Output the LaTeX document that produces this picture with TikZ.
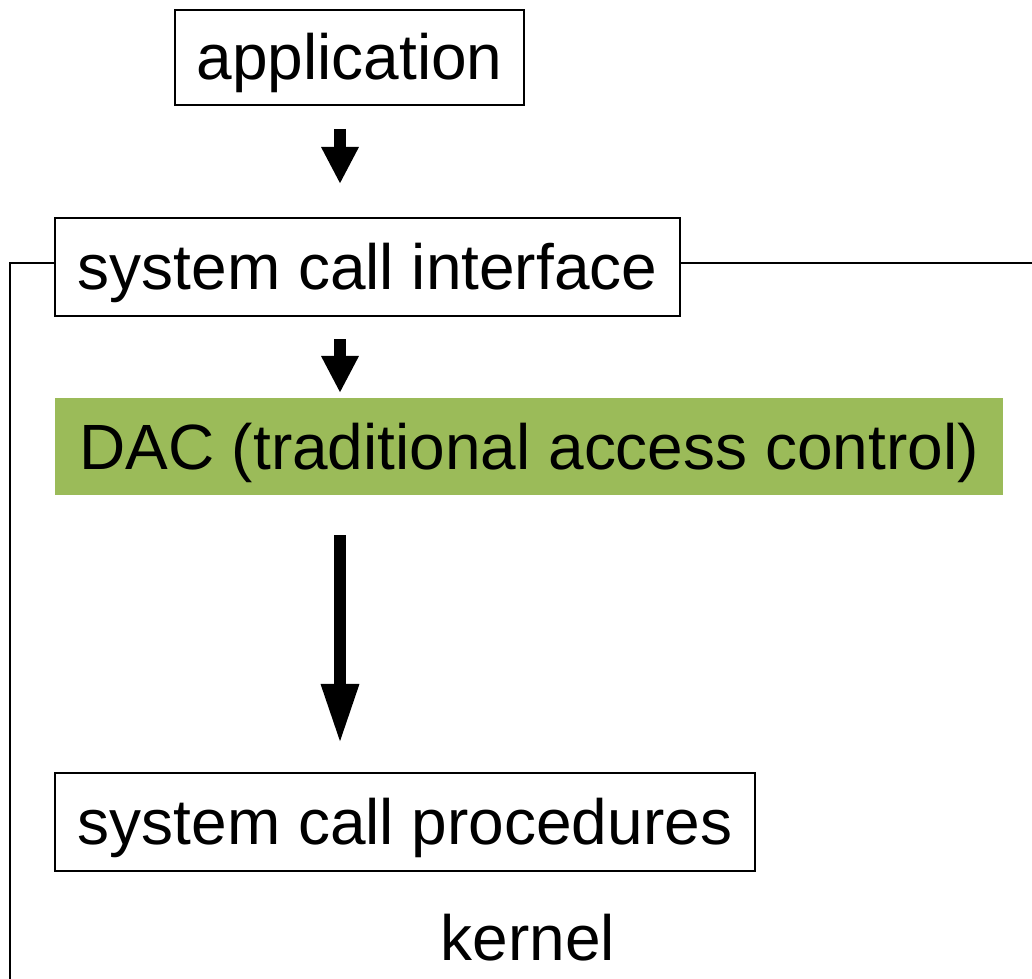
\documentclass[tikz,border=0pt]{standalone}
\usepackage{fontspec}
\setmainfont{Liberation Sans}
\usepackage{tikz}
\usetikzlibrary{arrows.meta}
\definecolor{dacgreen}{HTML}{9BBB59}
\tikzset{
  layer/.style={draw, line width=1.4pt, inner sep=0pt, text height=42pt, text depth=10pt, font=\fontsize{45.5}{54}\selectfont},
  blockarrow/.style={line width=8.5pt, -{Triangle[length=0.925cm, width=0.875cm]}},
  bigarrow/.style={line width=8.5pt, -{Triangle[length=1.5cm, width=0.875cm]}},
}

\begin{document}
\begin{tikzpicture}[x=0.025cm, y=-0.025cm]
        \useasboundingbox (0, 0) rectangle (1032, 979);
        \node[layer, minimum width=8.725cm, minimum height=2.375cm] (app) at (349.5, 57.5) {application};
        \node[layer, minimum width=15.625cm, minimum height=2.45cm] (sci) at (367.5, 267) {system call interface};
        \node[layer, draw=none, fill=dacgreen, minimum width=23.7cm, minimum height=2.425cm] (dac) at (529, 446.5) {DAC (traditional access control)};
        \node[layer, minimum width=17.5cm, minimum height=2.45cm] (scp) at (405, 822) {system call procedures};
        \node[font=\fontsize{45.5}{54}\selectfont] (kernel) at (528, 938) {kernel};
        % kernel frame
        \draw[line width=0.8pt] ([yshift=0.1cm]sci.west) -| (10, 979);
        \draw[line width=0.8pt] ([yshift=0.1cm]sci.east) -- ++(352, 0);
        % arrows between layers
        \draw[blockarrow] (app.south) ++(-9.5, 23) -- ++(0, 55);
        \draw[blockarrow] (sci.south) ++(-27.5, 22) -- ++(0, 54);
        \draw[bigarrow] (dac.south) ++(-189, 39) -- ++(0, 209);
\end{tikzpicture}
\end{document}
